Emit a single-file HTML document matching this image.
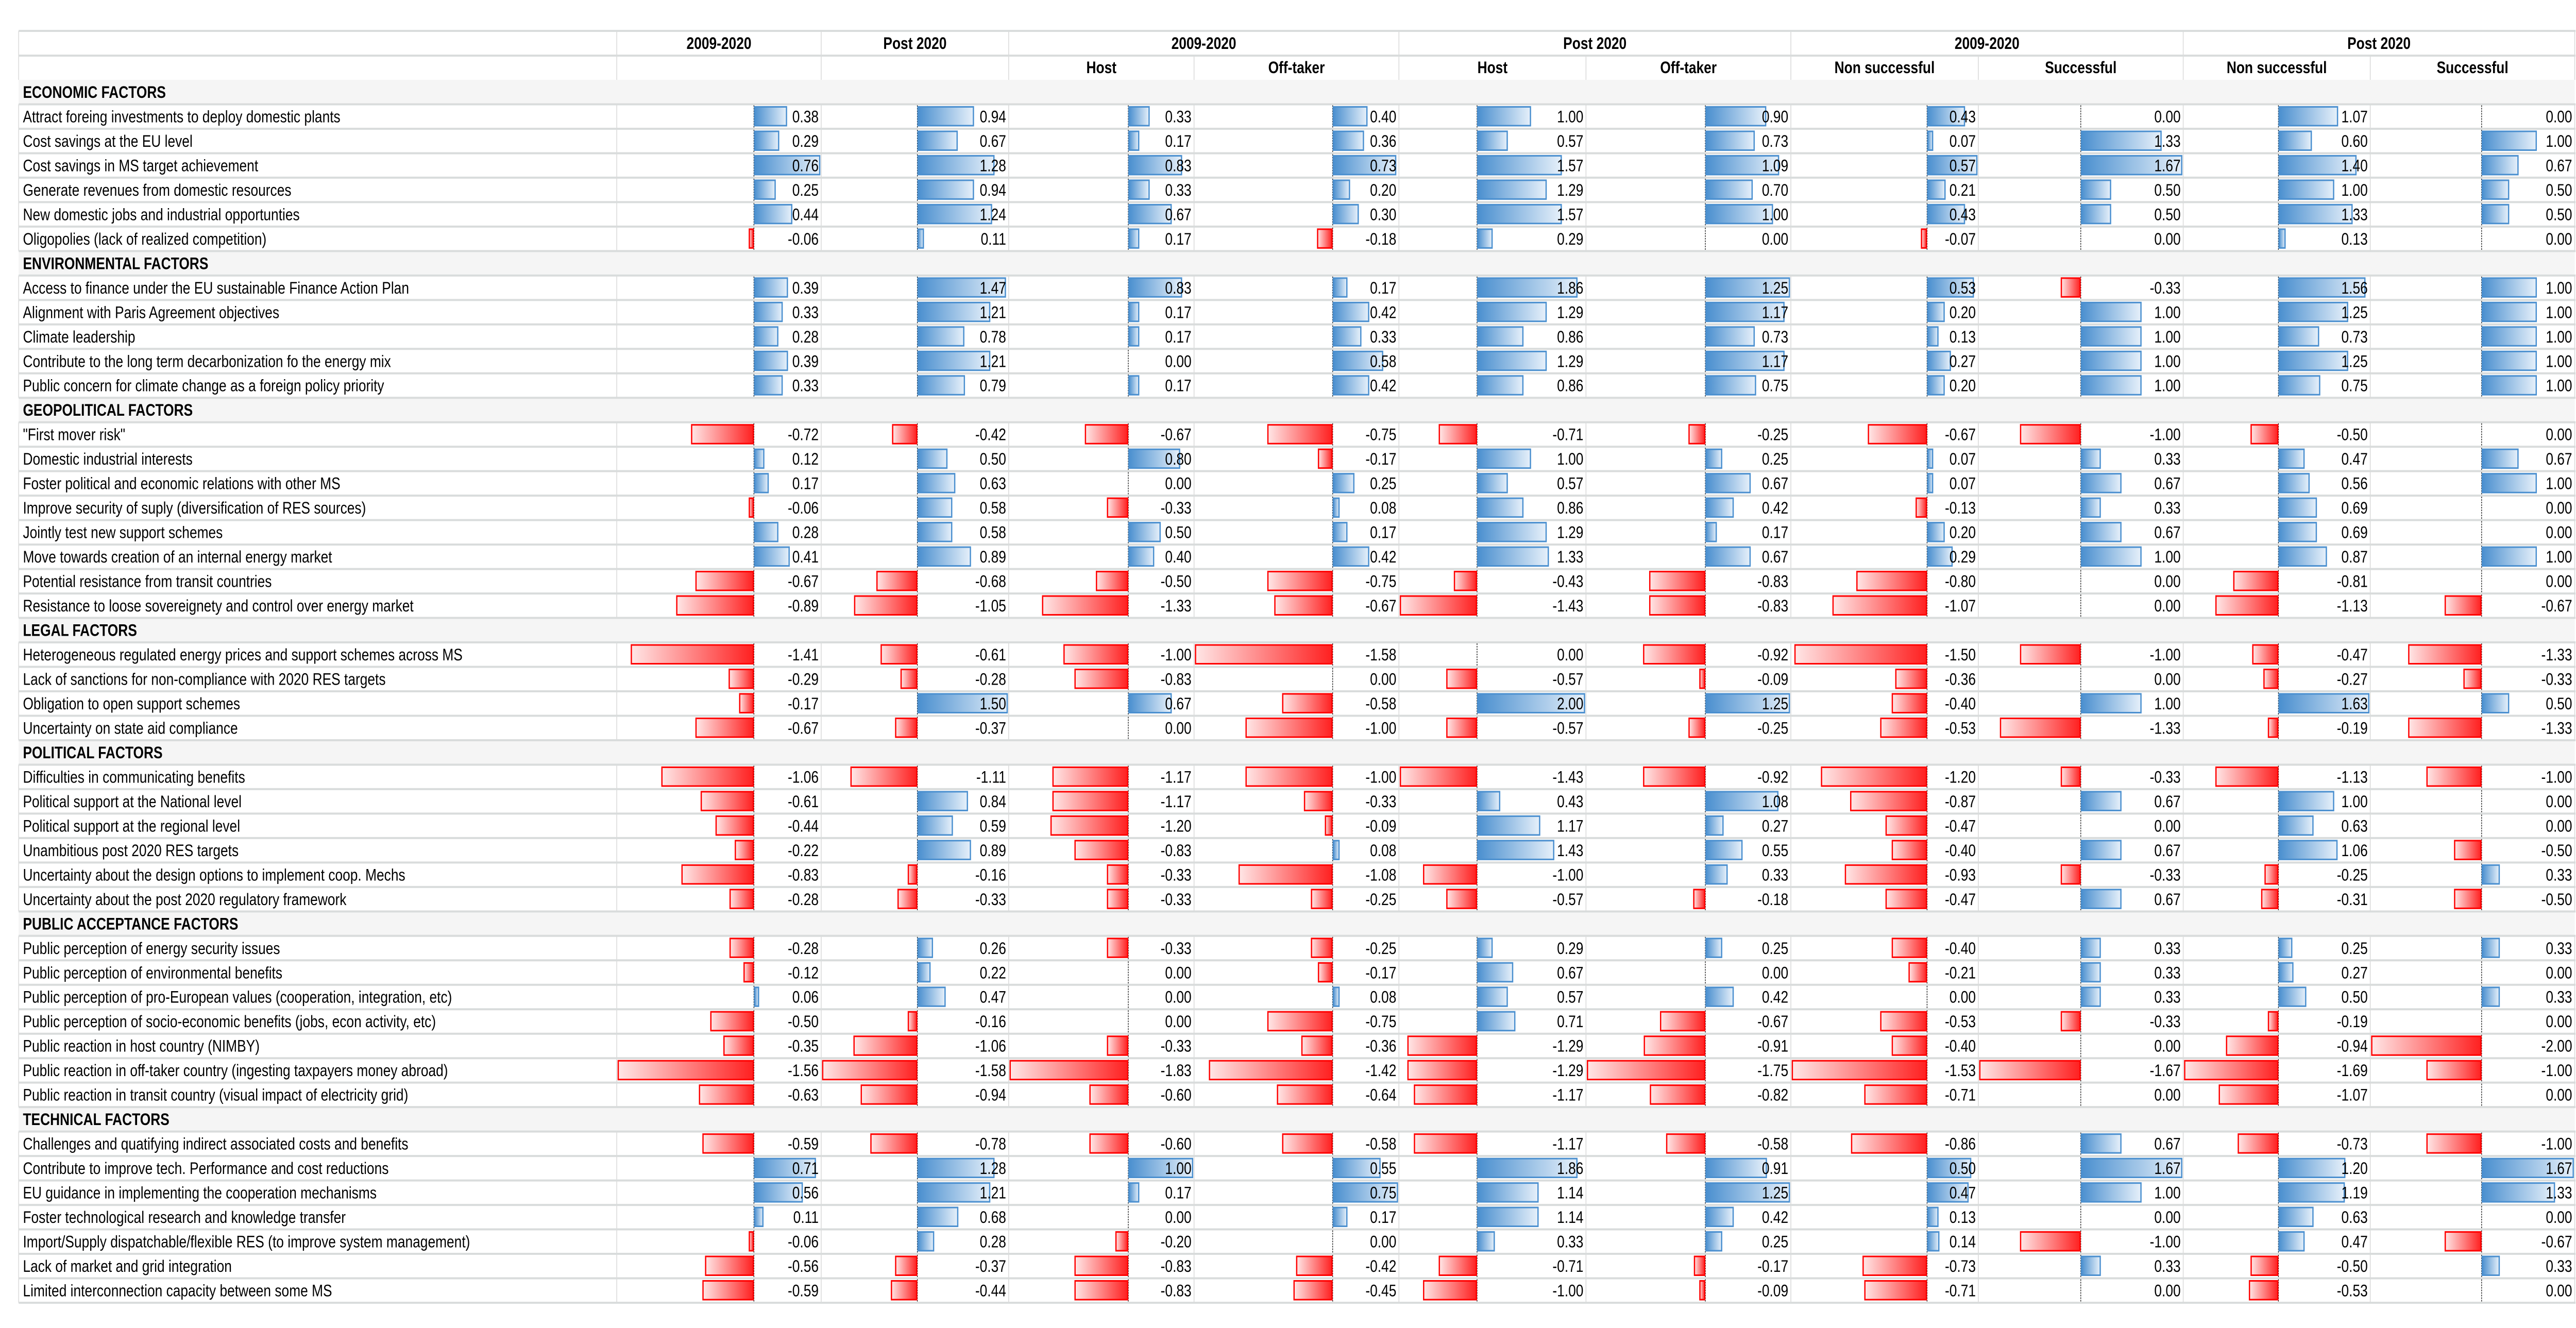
<!DOCTYPE html>
<html><head><meta charset="utf-8">
<style>
html,body{margin:0;padding:0;background:#fff;overflow:hidden;width:100vw;height:100vh;}
svg{display:block;width:100vw;height:100vh;}
text{font-family:"Liberation Sans",sans-serif;font-size:32px;fill:#000;}
</style></head>
<body>
<svg id="chart" viewBox="0 0 6073 2578" preserveAspectRatio="none" xmlns="http://www.w3.org/2000/svg">
<defs>
<linearGradient id="gpos" x1="0" x2="1" y1="0" y2="0"><stop offset="0" stop-color="#4a8fcf"/><stop offset="1" stop-color="#e6f0fa"/></linearGradient>
<linearGradient id="gneg" x1="0" x2="1" y1="0" y2="0"><stop offset="0" stop-color="#ffe6e6"/><stop offset="1" stop-color="#ff2020"/></linearGradient>
</defs>
</svg>
<script>
const groupHeaders = ["2009-2020","Post 2020","2009-2020","Post 2020","2009-2020","Post 2020"];
const subHeaders = ["","","Host","Off-taker","Host","Off-taker","Non successful","Successful","Non successful","Successful"];
const rowLabels = [
"#ECONOMIC FACTORS",
"Attract foreing investments to deploy domestic plants","Cost savings at the EU level","Cost savings in MS target achievement","Generate revenues from domestic resources","New domestic jobs and industrial opportunties","Oligopolies (lack of realized competition)",
"#ENVIRONMENTAL FACTORS",
"Access to finance under the EU sustainable Finance Action Plan","Alignment with Paris Agreement objectives","Climate leadership","Contribute to the long term decarbonization fo the energy mix","Public concern for climate change as a foreign policy priority",
"#GEOPOLITICAL FACTORS",
"\"First mover risk\"","Domestic industrial interests","Foster political and economic relations with other MS","Improve security of suply (diversification of RES sources)","Jointly test new support schemes","Move towards creation of an internal energy market","Potential resistance from transit countries","Resistance to loose sovereignety and control over energy market",
"#LEGAL FACTORS",
"Heterogeneous regulated energy prices and support schemes across MS","Lack of sanctions for non-compliance with 2020 RES targets","Obligation to open support schemes","Uncertainty on state aid compliance",
"#POLITICAL FACTORS",
"Difficulties in communicating benefits","Political support at the National level","Political support at the regional level","Unambitious post 2020 RES targets","Uncertainty about the design options to implement coop. Mechs","Uncertainty about the post 2020 regulatory framework",
"#PUBLIC ACCEPTANCE FACTORS",
"Public perception of energy security issues","Public perception of environmental benefits","Public perception of pro-European values (cooperation, integration, etc)","Public perception of socio-economic benefits (jobs, econ activity, etc)","Public reaction in host country (NIMBY)","Public reaction in off-taker country (ingesting taxpayers money abroad)","Public reaction in transit country (visual impact of electricity grid)",
"#TECHNICAL FACTORS",
"Challenges and quatifying indirect associated costs and benefits","Contribute to improve tech. Performance and cost reductions","EU guidance in implementing the cooperation mechanisms","Foster technological research and knowledge transfer","Import/Supply dispatchable/flexible RES (to improve system management)","Lack of market and grid integration","Limited interconnection capacity between some MS"
];
const all0920 = [0.38,0.29,0.76,0.25,0.44,-0.06, 0.39,0.33,0.28,0.39,0.33, -0.72,0.12,0.17,-0.06,0.28,0.41,-0.67,-0.89, -1.41,-0.29,-0.17,-0.67, -1.06,-0.61,-0.44,-0.22,-0.83,-0.28, -0.28,-0.12,0.06,-0.50,-0.35,-1.56,-0.63, -0.59,0.71,0.56,0.11,-0.06,-0.56,-0.59];
const allPost = [0.94,0.67,1.28,0.94,1.24,0.11, 1.47,1.21,0.78,1.21,0.79, -0.42,0.50,0.63,0.58,0.58,0.89,-0.68,-1.05, -0.61,-0.28,1.50,-0.37, -1.11,0.84,0.59,0.89,-0.16,-0.33, 0.26,0.22,0.47,-0.16,-1.06,-1.58,-0.94, -0.78,1.28,1.21,0.68,0.28,-0.37,-0.44];
const host0920 = [0.33,0.17,0.83,0.33,0.67,0.17, 0.83,0.17,0.17,0.00,0.17, -0.67,0.80,0.00,-0.33,0.50,0.40,-0.50,-1.33, -1.00,-0.83,0.67,0.00, -1.17,-1.17,-1.20,-0.83,-0.33,-0.33, -0.33,0.00,0.00,0.00,-0.33,-1.83,-0.60, -0.60,1.00,0.17,0.00,-0.20,-0.83,-0.83];
const off0920 = [0.40,0.36,0.73,0.20,0.30,-0.18, 0.17,0.42,0.33,0.58,0.42, -0.75,-0.17,0.25,0.08,0.17,0.42,-0.75,-0.67, -1.58,0.00,-0.58,-1.00, -1.00,-0.33,-0.09,0.08,-1.08,-0.25, -0.25,-0.17,0.08,-0.75,-0.36,-1.42,-0.64, -0.58,0.55,0.75,0.17,0.00,-0.42,-0.45];
const hostPost = [1.00,0.57,1.57,1.29,1.57,0.29, 1.86,1.29,0.86,1.29,0.86, -0.71,1.00,0.57,0.86,1.29,1.33,-0.43,-1.43, 0.00,-0.57,2.00,-0.57, -1.43,0.43,1.17,1.43,-1.00,-0.57, 0.29,0.67,0.57,0.71,-1.29,-1.29,-1.17, -1.17,1.86,1.14,1.14,0.33,-0.71,-1.00];
const offPost = [0.90,0.73,1.09,0.70,1.00,0.00, 1.25,1.17,0.73,1.17,0.75, -0.25,0.25,0.67,0.42,0.17,0.67,-0.83,-0.83, -0.92,-0.09,1.25,-0.25, -0.92,1.08,0.27,0.55,0.33,-0.18, 0.25,0.00,0.42,-0.67,-0.91,-1.75,-0.82, -0.58,0.91,1.25,0.42,0.25,-0.17,-0.09];
const nonSucc0920 = [0.43,0.07,0.57,0.21,0.43,-0.07, 0.53,0.20,0.13,0.27,0.20, -0.67,0.07,0.07,-0.13,0.20,0.29,-0.80,-1.07, -1.50,-0.36,-0.40,-0.53, -1.20,-0.87,-0.47,-0.40,-0.93,-0.47, -0.40,-0.21,0.00,-0.53,-0.40,-1.53,-0.71, -0.86,0.50,0.47,0.13,0.14,-0.73,-0.71];
const succ0920 = [0.00,1.33,1.67,0.50,0.50,0.00, -0.33,1.00,1.00,1.00,1.00, -1.00,0.33,0.67,0.33,0.67,1.00,0.00,0.00, -1.00,0.00,1.00,-1.33, -0.33,0.67,0.00,0.67,-0.33,0.67, 0.33,0.33,0.33,-0.33,0.00,-1.67,0.00, 0.67,1.67,1.00,0.00,-1.00,0.33,0.00];
const nonSuccPost = [1.07,0.60,1.40,1.00,1.33,0.13, 1.56,1.25,0.73,1.25,0.75, -0.50,0.47,0.56,0.69,0.69,0.87,-0.81,-1.13, -0.47,-0.27,1.63,-0.19, -1.13,1.00,0.63,1.06,-0.25,-0.31, 0.25,0.27,0.50,-0.19,-0.94,-1.69,-1.07, -0.73,1.20,1.19,0.63,0.47,-0.50,-0.53];
const succPost = [0.00,1.00,0.67,0.50,0.50,0.00, 1.00,1.00,1.00,1.00,1.00, 0.00,0.67,1.00,0.00,0.00,1.00,0.00,-0.67, -1.33,-0.33,0.50,-1.33, -1.00,0.00,0.00,-0.50,0.33,-0.50, 0.33,0.00,0.33,0.00,-2.00,-1.00,0.00, -1.00,1.67,1.33,0.00,-0.67,0.33,0.00];
const columns = [all0920,allPost,host0920,off0920,hostPost,offPost,nonSucc0920,succ0920,nonSuccPost,succPost];
const columnNames = ["all-2009-2020","all-post-2020","host-2009-2020","off-taker-2009-2020","host-post-2020","off-taker-post-2020","non-successful-2009-2020","successful-2009-2020","non-successful-post-2020","successful-post-2020"];

const NS="http://www.w3.org/2000/svg";
const svg=document.getElementById('chart');
function mk(tag,attrs,parent){const e=document.createElementNS(NS,tag);for(const k in attrs)e.setAttribute(k,attrs[k]);(parent||svg).appendChild(e);return e;}

const colEdges=[1454,1936,2378,2815,3298,3739,4222,4664,5147,5588,6070];
const LEFT=44, TOP=60, H1=48, H2=47, ROWH=47.48;
const bodyTop=TOP+H1+H2;
const nRows=rowLabels.length;

rowLabels.forEach((lab,i)=>{
  if(lab[0]==='#'){
    const r=mk('rect',{x:LEFT,y:bodyTop+i*ROWH,width:6070-LEFT,height:ROWH,fill:'#f5f5f5'});
    
    
  }
});

function vline(x,y1,y2){const l=mk('line',{x1:x,x2:x,y1:y1,y2:y2,stroke:'#dcdcdc','stroke-width':2});
  
  }
[LEFT,1454,1936,2378,3298,4222,5147,6070].forEach(x=>vline(x,TOP,TOP+H1));
[LEFT].concat(colEdges).forEach(x=>vline(x,TOP+H1,bodyTop));
rowLabels.forEach((lab,i)=>{
  if(lab[0]!=='#'){
    const y=bodyTop+i*ROWH;
    [LEFT].concat(colEdges).forEach(x=>vline(x,y,y+ROWH));
  }
});

function hline(y){const l=mk('line',{x1:LEFT,x2:6072,y1:y,y2:y,stroke:'#d9dcdc','stroke-width':4});
  
  }
hline(TOP);hline(TOP+H1);
for(let i=0;i<=nRows;i++){
  const lab=rowLabels[i];
  if(i===nRows||(lab&&lab[0]!=='#')||(i>0&&rowLabels[i-1][0]!=='#')) hline(bodyTop+i*ROWH);
}

const groupSpans=[[0,1],[1,2],[2,4],[4,6],[6,8],[8,10]];
groupSpans.forEach((s,k)=>{
  const cx=(colEdges[s[0]]+colEdges[s[1]])/2;
  const t=mk('text',{x:cx,y:TOP+35,'text-anchor':'middle','font-weight':'bold'});
  t.textContent=groupHeaders[k];
  
  
});
subHeaders.forEach((h,k)=>{
  if(!h)return;
  const cx=(colEdges[k]+colEdges[k+1])/2;
  const t=mk('text',{x:cx,y:TOP+H1+34,'text-anchor':'middle','font-weight':'bold'});
  t.textContent=h;
  
  
});

const scales=columns.map((vals,c)=>{
  const mn=Math.min(0,...vals), mx=Math.max(0,...vals);
  const x0=colEdges[c]+2, w=colEdges[c+1]-colEdges[c]-4;
  const k=w/(mx-mn);
  return {zero:x0+(-mn)*k,k:k};
});
function xScale(c,v){return scales[c].zero+v*scales[c].k;}

let item=0;
rowLabels.forEach((lab,i)=>{
  const y=bodyTop+i*ROWH;
  if(lab[0]==='#'){
    const t=mk('text',{x:LEFT+10,y:y+35,'font-weight':'bold'});
    t.textContent=lab.slice(1);
    
    
    return;
  }
  const t=mk('text',{x:LEFT+10,y:y+35});
  t.textContent=lab;
  
  
  columns.forEach((vals,c)=>{
    const v=vals[item];
    const z=xScale(c,0), xv=xScale(c,v);
    const ax=mk('line',{x1:z,x2:z,y1:y+2,y2:y+ROWH-2,stroke:'#000','stroke-width':1.5,'stroke-dasharray':'3,2'});
    
    
    if(v!==0){
      const bx=Math.min(z,xv), bw=Math.abs(xv-z);
      const b=mk('rect',{x:bx+1.5,y:y+5,width:Math.max(bw-3,1),height:ROWH-11,
        fill:v>0?'url(#gpos)':'url(#gneg)',stroke:v>0?'#4a8fcf':'#ff0000','stroke-width':3});
      
      
    }
    const tv=mk('text',{x:colEdges[c+1]-6,y:y+35,'text-anchor':'end'});
    tv.textContent=v.toFixed(2);
    
    
  });
  item++;
});
</script>
</body></html>
